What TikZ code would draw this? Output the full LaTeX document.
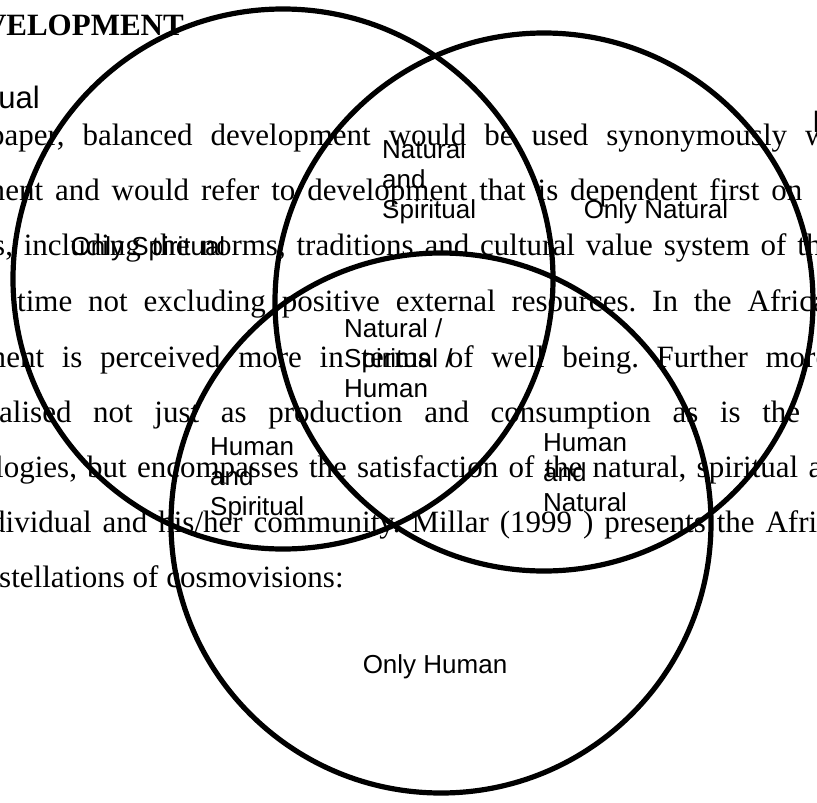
\documentclass[tikz,border=0pt]{standalone}
\usepackage{fontspec}
\setmainfont{Liberation Serif}
\setsansfont{Liberation Sans}
\frenchspacing
\begin{document}
\begin{tikzpicture}[x=1pt,y=-1pt,
    ring/.style={line width=5.2pt},
    body/.style={anchor=base west,inner sep=0pt,font=\fontsize{31}{37}\selectfont},
    lbl/.style={inner sep=0pt,align=left,font=\sffamily\fontsize{26}{30}\selectfont}]
  \useasboundingbox (0,0) rectangle (817,803);
  \clip (0,0) rectangle (817,803);
  % page text behind the diagram
  \node[body,anchor=base east,font=\bfseries\fontsize{31}{37}\selectfont] (head) at (184,35) {VELOPMENT};
  \node[body,anchor=base east,font=\sffamily\fontsize{31}{37}\selectfont] (sub) at (40,108) {ual};
  \node[body] (t1) at (-11,145) {\makebox[871pt][s]{paper, balanced development would be used synonymously with}};
  \node[body] (t2) at (-19,200) {\makebox[821pt][s]{ment and would refer to development that is dependent first on}};
  \node[body] (t3) at (-7,255) {\makebox[842pt][s]{s, including the norms, traditions and cultural value system of the}};
  \node[body] (t4) at (17,311) {\makebox[825pt][s]{time not excluding positive external resources. In the African}};
  \node[body] (t5) at (-18,367) {\makebox[847pt][s]{ment is perceived more in terms of well being. Further more}};
  \node[body] (t6) at (-1,422) {\makebox[801pt][s]{alised not just as production and consumption as is the}};
  \node[body] (t7) at (-5,477) {\makebox[858pt][s]{logies, but encompasses the satisfaction of the natural, spiritual and}};
  \node[body] (t8) at (-10,532) {\makebox[870pt][s]{dividual and his/her community. Millar (1999 ) presents the African}};
  \node[body] (t9) at (-1,587) {stellations of cosmovisions:};
  \node[body,font=\sffamily\fontsize{31}{37}\selectfont] (edge) at (812,132) {I};
  % the three circles
  \coordinate (spiritual) at (283,279);
  \coordinate (natural) at (544,302);
  \coordinate (human) at (441,523);
  \draw[ring] (spiritual) circle[radius=270];
  \draw[ring] (natural) circle[radius=269];
  \draw[ring] (human) circle[radius=270];
  % region labels
  \node[lbl,anchor=base] (onlyS) at (148,255) {Only Spiritual};
  \node[lbl,anchor=base] (onlyN) at (656,218) {Only Natural};
  \node[lbl,anchor=base] (onlyH) at (435,673) {Only Human};
  \node[lbl,anchor=north west] (ns) at (382,139.4) {Natural\\and\\Spiritual};
  \node[lbl,anchor=north west] (nsh) at (344,318.4) {Natural /\\Spiritual /\\Human};
  \node[lbl,anchor=north west] (hs) at (210,437.4) {Human\\and\\Spiritual};
  \node[lbl,anchor=north west] (hn) at (543,433.4) {Human\\and\\Natural};
\end{tikzpicture}
\end{document}
